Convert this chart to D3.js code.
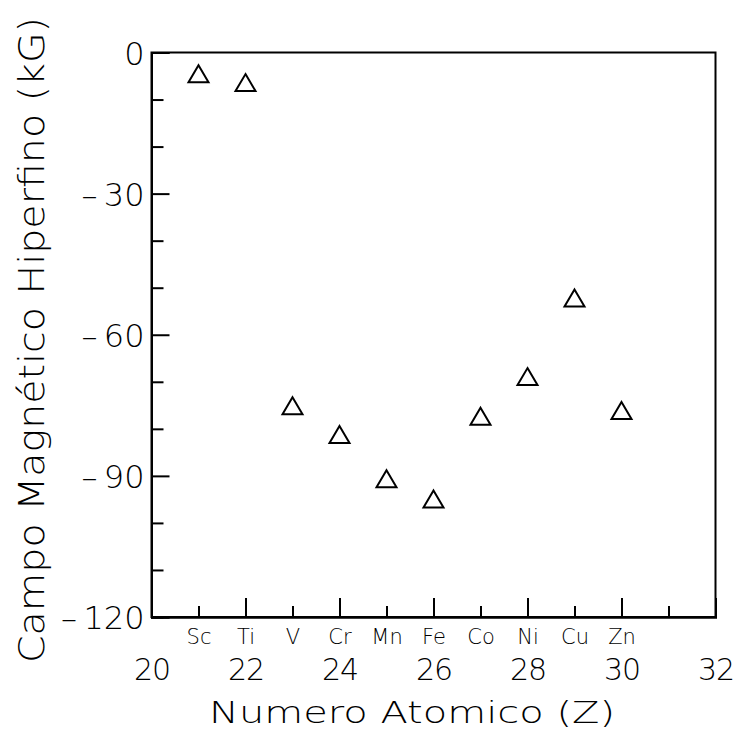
<!DOCTYPE html>
<html>
<head>
<meta charset="utf-8">
<script src="https://cdn.jsdelivr.net/npm/d3@7"></script>
<style>
  html, body { margin: 0; padding: 0; background: #fff; }
  svg { display: block; }
  text { font-family: "DejaVu Sans", "Liberation Sans", sans-serif; font-weight: 200; fill: #000; }
</style>
</head>
<body>
<svg id="chart" width="734" height="736"></svg>
<script>
// Hyperfine magnetic field of impurities, by atomic number
const atomicNumbers = [21, 22, 23, 24, 25, 26, 27, 28, 29, 30];
const elements = ["Sc", "Ti", "V", "Cr", "Mn", "Fe", "Co", "Ni", "Cu", "Zn"];
const fieldKG = [-4.5, -6.4, -75.1, -81.2, -90.6, -94.9, -77.3, -68.9, -52.2, -76.1];

const xMajorTicks = [20, 22, 24, 26, 28, 30, 32];
const xMinorTicks = [21, 23, 25, 27, 29, 31];
const yMajorTicks = [0, -30, -60, -90, -120];
const yMinorTicks = [-10, -20, -40, -50, -70, -80, -100, -110];

const xTitle = "Numero Atomico (Z)";
const yTitle = "Campo Magnético Hiperfino (kG)";

const svg = d3.select("#chart");
const plotLeft = 151.5, plotRight = 715.5, plotTop = 52.5, plotBottom = 617;

const x = d3.scaleLinear().domain([20, 32]).range([plotLeft, plotRight]);
const y = d3.scaleLinear().domain([0, -120]).range([plotTop, plotBottom]);

const signed = v => (v < 0 ? "\u2013\u2009" + Math.abs(v) : String(v));

// left axis: major ticks with labels, minor ticks without
const yAxisG = svg.append("g").attr("transform", `translate(${plotLeft},0)`)
  .call(d3.axisLeft(y).tickValues(yMajorTicks).tickSize(-18).tickPadding(7).tickFormat(signed));
yAxisG.selectAll("text").style("font-size", "32px").attr("dy", "0.36em");
svg.append("g").attr("transform", `translate(${plotLeft},0)`)
  .call(d3.axisLeft(y).tickValues(yMinorTicks).tickSize(-12).tickFormat(""));

// bottom axis: major ticks with labels, minor ticks without
const xAxisG = svg.append("g").attr("transform", `translate(0,${plotBottom})`)
  .call(d3.axisBottom(x).tickValues(xMajorTicks).tickSize(-19).tickPadding(0).tickFormat(d3.format("d")));
xAxisG.selectAll("text").style("font-size", "30px").style("letter-spacing", "-1px")
  .attr("y", 63).attr("dy", 0);
svg.append("g").attr("transform", `translate(0,${plotBottom})`)
  .call(d3.axisBottom(x).tickValues(xMinorTicks).tickSize(-11).tickFormat(""));

// element symbols under their atomic number
const elemAxis = svg.append("g").attr("transform", `translate(0,${plotBottom})`)
  .call(d3.axisBottom(x).tickValues(atomicNumbers).tickSize(0).tickPadding(0)
    .tickFormat((d, i) => elements[i]));
elemAxis.select(".domain").remove();
elemAxis.selectAll("text").style("font-size", "21px").attr("y", 27).attr("dy", 0);

svg.selectAll(".domain").attr("stroke", "#000").attr("stroke-width", 2);
svg.selectAll(".tick line").attr("stroke", "#000").attr("stroke-width", 2);

// plot frame
svg.append("rect")
  .attr("x", x(20)).attr("y", y(0))
  .attr("width", x(32) - x(20)).attr("height", y(-120) - y(0))
  .attr("fill", "none").attr("stroke", "#000").attr("stroke-width", 2);

// open triangle markers
const tw = 20, th = 17;
const tri = `M0,${-th / 2}L${tw / 2},${th / 2}L${-tw / 2},${th / 2}Z`;
svg.append("g").selectAll("path")
  .data(atomicNumbers)
  .join("path")
  .attr("d", tri)
  .attr("transform", (d, i) => `translate(${x(d)},${y(fieldKG[i])})`)
  .attr("fill", "none").attr("stroke", "#000").attr("stroke-width", 2)
  .attr("stroke-linejoin", "miter");

// axis titles
svg.append("text")
  .attr("x", 209).attr("y", 723)
  .attr("textLength", 406).attr("lengthAdjust", "spacingAndGlyphs")
  .style("font-size", "31px")
  .text(xTitle);

svg.append("text")
  .attr("transform", "translate(44,663) rotate(-90)")
  .attr("x", 0).attr("y", 0)
  .attr("textLength", 646).attr("lengthAdjust", "spacingAndGlyphs")
  .style("font-size", "35px")
  .text(yTitle);
</script>
</body>
</html>
